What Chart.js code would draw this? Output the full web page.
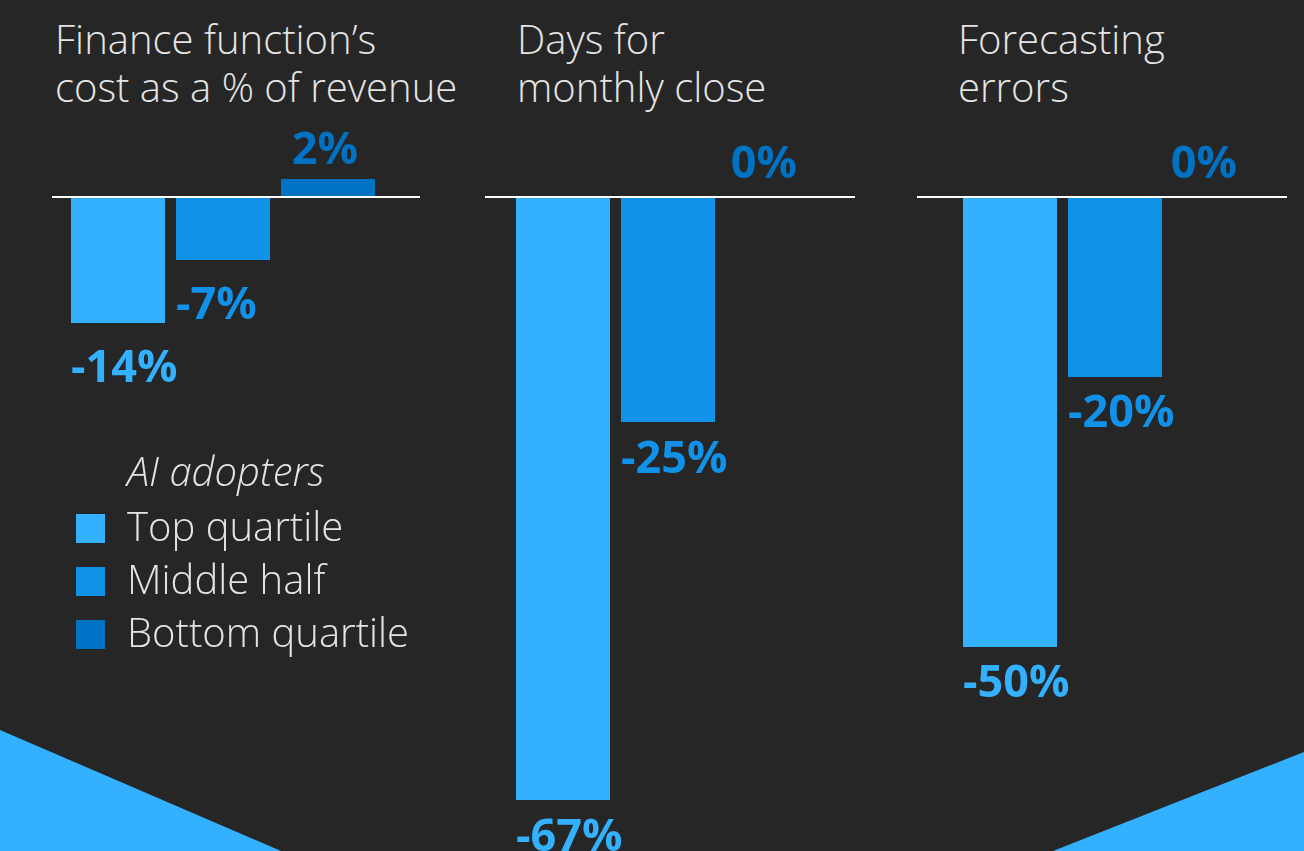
<!DOCTYPE html>
<html>
<head>
<meta charset="utf-8">
<script src="https://cdn.jsdelivr.net/npm/chart.js@4/dist/chart.umd.min.js"></script>
<style>
  html, body { margin:0; padding:0; background:#262626; }
  #page { position:relative; width:1304px; height:851px; overflow:hidden; background:#262626; font-family:"Open Sans","Noto Sans",sans-serif; }
  .tri { position:absolute; background:#33B1FF; }
  .title { position:absolute; top:15px; color:#e4e4e4; font-weight:300; font-size:40px; line-height:48px; white-space:nowrap; }
  canvas { position:absolute; top:0; }
  #legend { position:absolute; left:0; top:0; color:#e4e4e4; font-weight:300; font-size:40px; }
  #legend .row { position:absolute; left:127px; height:53px; line-height:53px; white-space:nowrap; }
  #legend .head { font-style:italic; }
  #legend .sw { position:absolute; left:76px; width:29px; height:29px; }
</style>
</head>
<body>
<div id="page">
  <div class="tri" style="left:0;top:730px;width:281px;height:121px;clip-path:polygon(0 0,100% 100%,0 100%);"></div>
  <div class="tri" style="left:1053px;top:752px;width:251px;height:99px;clip-path:polygon(100% 0,100% 100%,0 100%);"></div>
  <div id="titles"></div>
  <canvas id="c0"></canvas>
  <canvas id="c1"></canvas>
  <canvas id="c2"></canvas>
  <div id="legend"></div>
</div>
<script>
// ---- data ----
const categories = ["Finance function\u2019s|cost as a % of revenue", "Days for|monthly close", "Forecasting|errors"];
const seriesNames = ["Top quartile", "Middle half", "Bottom quartile"];
const topQuartile = [-14, -67, -50];
const middleHalf = [-7, -25, -20];
const bottomQuartile = [2, 0, 0];
const legendTitle = "AI adopters";

// ---- styling / layout ----
const colors = ["#33B1FF", "#1192E8", "#0072C3"];
const panels = [
  { left: 52,  width: 368, padL: 13.5, padR: 39.5, titleX: 55,  posDx: -3,  negGap: 59 },
  { left: 485, width: 370, padL: 25.5, padR: 29.5, titleX: 517, posDx: -9,  negGap: 51 },
  { left: 917, width: 370, padL: 40.5, padR: 14.5, titleX: 958, posDx: -16, negGap: 50 }
];
const H = 851, BASE = 197, PXPER = 9;

const titlesEl = document.getElementById('titles');
categories.forEach((c, i) => {
  const d = document.createElement('div');
  d.className = 'title';
  d.style.left = panels[i].titleX + 'px';
  d.innerHTML = c.split('|').join('<br>');
  titlesEl.appendChild(d);
});

const leg = document.getElementById('legend');
let html = '<div class="row head" style="top:444px">' + legendTitle + '</div>';
seriesNames.forEach((s, i) => {
  const top = 499 + i * 53;
  html += '<div class="sw" style="top:' + (top + 14.5) + 'px;background:' + colors[i] + '"></div>';
  html += '<div class="row" style="top:' + top + 'px">' + s + '</div>';
});
leg.innerHTML = html;

const baselinePlugin = {
  id: 'baseline',
  afterDatasetsDraw(chart) {
    const ctx = chart.ctx;
    const y = chart.scales.y.getPixelForValue(0);
    ctx.save();
    ctx.strokeStyle = '#ffffff';
    ctx.lineWidth = 2;
    ctx.beginPath();
    ctx.moveTo(0, y);
    ctx.lineTo(chart.width, y);
    ctx.stroke();
    ctx.restore();
  }
};
const labelPlugin = {
  id: 'valueLabels',
  afterDraw(chart) {
    const ctx = chart.ctx;
    const meta = chart.getDatasetMeta(0);
    const data = chart.data.datasets[0].data;
    const o = chart.options.plugins.valueLabels;
    ctx.save();
    ctx.font = 'bold 45px "Open Sans", "Noto Sans", sans-serif';
    ctx.textBaseline = 'alphabetic';
    meta.data.forEach((bar, i) => {
      const v = data[i];
      ctx.fillStyle = colors[i];
      const txt = v + '%';
      if (v < 0) {
        ctx.textAlign = 'left';
        ctx.fillText(txt, bar.x - bar.width / 2, bar.y + o.negGap);
      } else {
        ctx.textAlign = 'center';
        ctx.fillText(txt, bar.x + o.posDx, bar.y - (v > 0 ? 15 : 19));
      }
    });
    ctx.restore();
  }
};

panels.forEach((p, i) => {
  const cv = document.getElementById('c' + i);
  cv.width = p.width; cv.height = H;
  cv.style.left = p.left + 'px';
  cv.style.width = p.width + 'px'; cv.style.height = H + 'px';
  new Chart(cv, {
    type: 'bar',
    data: {
      labels: seriesNames,
      datasets: [{
        data: [topQuartile[i], middleHalf[i], bottomQuartile[i]],
        backgroundColor: colors,
        borderWidth: 0,
        barPercentage: 94 / 105,
        categoryPercentage: 1
      }]
    },
    options: {
      responsive: false,
      animation: false,
      layout: { padding: { left: p.padL, right: p.padR, top: 0, bottom: 0 } },
      plugins: { legend: { display: false }, tooltip: { enabled: false }, title: { display: false }, valueLabels: { posDx: p.posDx, negGap: p.negGap } },
      scales: {
        x: { display: false, offset: true },
        y: { display: false, min: -(H - BASE) / PXPER, max: BASE / PXPER }
      }
    },
    plugins: [baselinePlugin, labelPlugin]
  });
});
</script>
</body>
</html>
